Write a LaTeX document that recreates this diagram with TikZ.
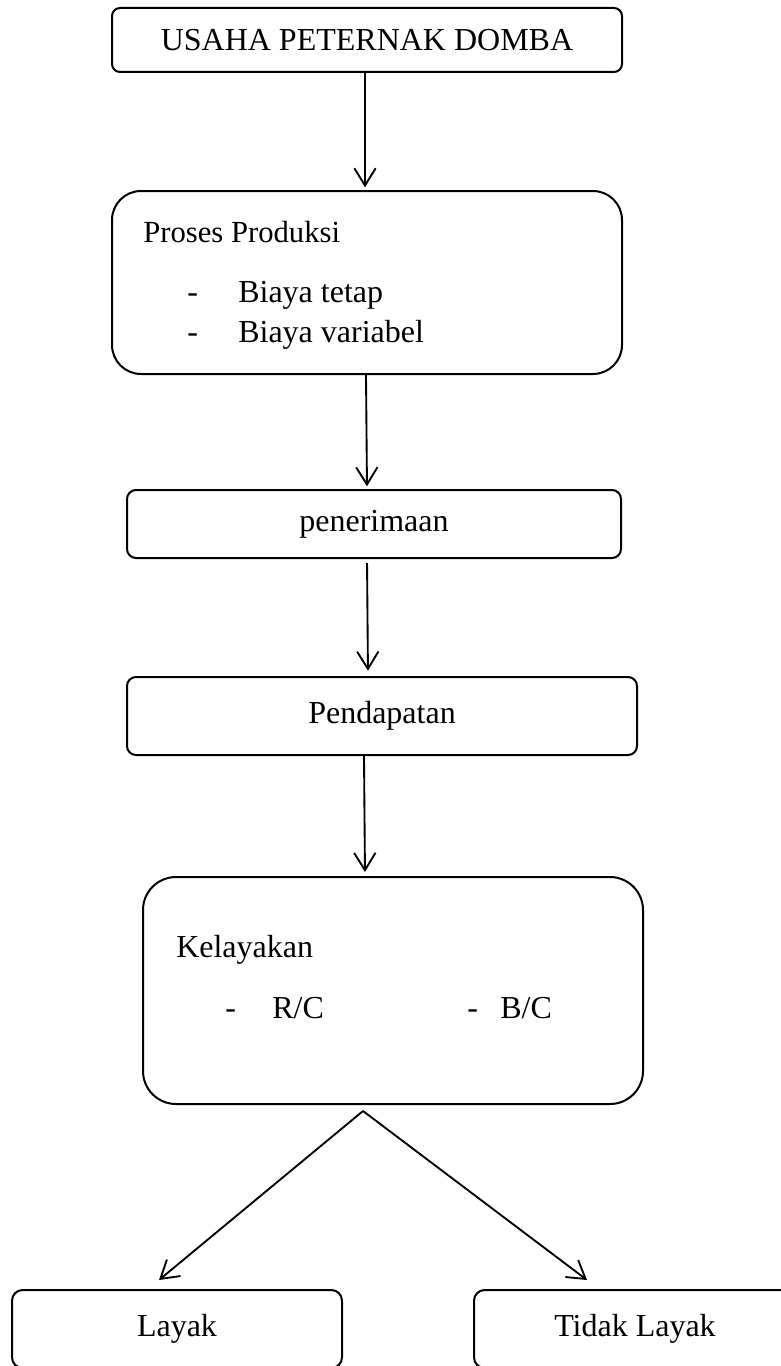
\documentclass[tikz,border=0pt]{standalone}
\usepackage{fontspec}
\setmainfont{Liberation Serif}
\usetikzlibrary{arrows.meta,calc}
\begin{document}
\begin{tikzpicture}[x=0.75pt,y=-0.75pt,
  box/.style={draw,line width=1.5pt,rectangle,inner sep=0pt,font=\fontsize{24}{28}\selectfont},
  txt/.style={inner sep=0pt,font=\fontsize{24}{28}\selectfont},
  arr/.style={line width=1.4pt,-{Straight Barb[length=13pt,width=16pt,line width=1.4pt]}},
  ln/.style={line width=1.4pt}]
\useasboundingbox (0,0) rectangle (781,1366);
\clip (0,0) rectangle (781,1366);
% boxes
\node[box,rounded corners=6pt,minimum width=382.5pt,minimum height=48pt] (b1) at (367,40)
  {\raisebox{-4pt}{USAHA PETERNAK DOMBA}};
\node[box,rounded corners=21.75pt,minimum width=382.5pt,minimum height=137.25pt] (b2) at (367,282.5) {};
\node[box,rounded corners=6.75pt,minimum width=370.5pt,minimum height=51pt] (b3) at (374,524) {penerimaan};
\node[box,rounded corners=6.75pt,minimum width=382.5pt,minimum height=58.5pt] (b4) at (382,716) {Pendapatan};
\node[box,rounded corners=24.75pt,minimum width=375pt,minimum height=170.25pt] (b5) at (393,990.5) {};
\node[box,rounded corners=8pt,minimum width=247.5pt,minimum height=58.5pt] (b6) at (177,1329) {\raisebox{3pt}{Layak}};
\node[box,rounded corners=8pt,minimum width=241.5pt,minimum height=58.5pt] (b7) at (635,1329) {\raisebox{3pt}{Tidak Layak}};
% texts inside box 2
\node[txt,anchor=base west] (t1) at (143,242) {\fontsize{23}{27}\selectfont Proses Produksi};
\node[txt,anchor=base west] (d1) at (187,302) {-};
\node[txt,anchor=base west] (t2) at (238,302) {Biaya tetap};
\node[txt,anchor=base west] (d2) at (187,342) {-};
\node[txt,anchor=base west] (t3) at (238,342) {Biaya variabel};
% texts inside box 5
\node[txt,anchor=base west] (t4) at (176,957) {Kelayakan};
\node[txt,anchor=base west] (d3) at (225,1018) {-};
\node[txt,anchor=base west] (t5) at (272,1018) {R/C};
\node[txt,anchor=base west] (d4) at (467,1018) {-};
\node[txt,anchor=base west] (t6) at (500,1018) {B/C};
% connector x positions
\coordinate (x1) at (365,0);
\coordinate (x2a) at (366,0);
\coordinate (x2b) at (367,0);
\coordinate (x3a) at (367,0);
\coordinate (x3b) at (368,0);
\coordinate (x4a) at (364,0);
\coordinate (x4b) at (365,0);
\draw[arr,shorten >=2pt] (b1.south -| x1) -- (b2.north -| x1);
\draw[arr,shorten >=2pt] (b2.south -| x2a) -- (b3.north -| x2b);
\draw[arr,shorten <=3pt,shorten >=4pt] (b3.south -| x3a) -- (b4.north -| x3b);
\draw[arr,shorten >=3pt] (b4.south -| x4a) -- (b5.north -| x4b);
% split
\coordinate (apex) at (363,1111);
\coordinate (tl) at (159,1280);
\coordinate (tr) at (587,1280);
\draw[arr] (apex) -- (tl);
\draw[arr] (apex) -- (tr);
\end{tikzpicture}
\end{document}
